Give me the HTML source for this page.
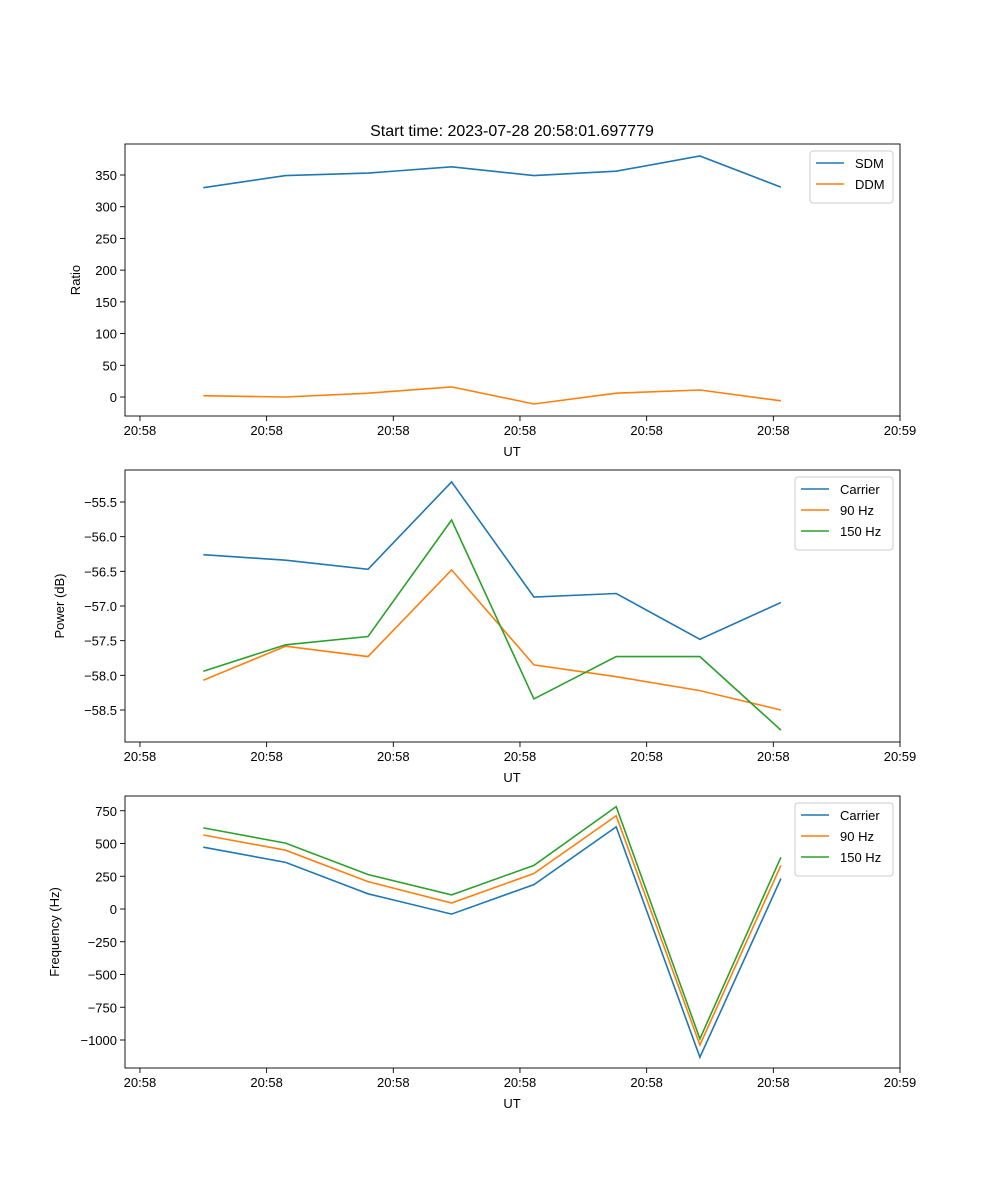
<!DOCTYPE html>
<html><head><meta charset="utf-8"><style>
html,body{margin:0;padding:0;background:#fff}
svg{display:block;font-family:"Liberation Sans","DejaVu Sans",sans-serif}
</style></head><body>
<svg id="fig" width="1000" height="1200" viewBox="0 0 1000 1200" xmlns="http://www.w3.org/2000/svg">
<rect width="1000" height="1200" fill="#fff"/>
<text x="512" y="136" font-size="16" text-anchor="middle">Start time: 2023-07-28 20:58:01.697779</text>
</svg>
<script>
const times = [5.0, 11.5, 18.0, 24.6, 31.1, 37.6, 44.2, 50.6];
const xTicks = [0, 10, 20, 30, 40, 50, 60];
const xTickLabels = ["20:58","20:58","20:58","20:58","20:58","20:58","20:59"];
const sdm = [330, 349, 353, 363, 349, 356, 380, 331];
const ddm = [2, 0, 6, 16, -11, 6, 11, -6];
const ratioTicks = [0, 50, 100, 150, 200, 250, 300, 350];
const powCarrier = [-56.26, -56.34, -56.47, -55.21, -56.87, -56.82, -57.48, -56.95];
const pow90 = [-58.07, -57.58, -57.73, -56.48, -57.85, -58.02, -58.22, -58.5];
const pow150 = [-57.94, -57.56, -57.44, -55.76, -58.34, -57.73, -57.73, -58.79];
const powTicks = [-58.5, -58.0, -57.5, -57.0, -56.5, -56.0, -55.5];
const freqCarrier = [472, 356, 116, -39, 186, 627, -1131, 232];
const freq90 = [565, 449, 209, 46, 271, 712, -1038, 333];
const freq150 = [619, 503, 263, 108, 333, 782, -991, 395];
const freqTicks = [-1000, -750, -500, -250, 0, 250, 500, 750];

const NS = "http://www.w3.org/2000/svg";
const svg = document.getElementById("fig");
function el(tag, attrs, parent) {
  const e = document.createElementNS(NS, tag);
  for (const k in attrs) e.setAttribute(k, attrs[k]);
  (parent || svg).appendChild(e);
  return e;
}
function fmt(v, dec) {
  const s = Math.abs(v).toFixed(dec);
  return (v < 0 ? "\u2212" : "") + s;
}
const X0 = 125, X1 = 900, XMIN = -1.18, XMAX = 60;
function xs(t) { return X0 + (t - XMIN) / (XMAX - XMIN) * (X1 - X0); }

function panel(name, top, bottom, yRef1, v1, yRef2, v2, ticks, dec, ylabel, ylabelX, series, legend) {
  const g = el("g", {});
  
  
  const ys = v => yRef1 + (v - v1) / (v2 - v1) * (yRef2 - yRef1);
  xTicks.forEach((t, i) => {
    const x = xs(t);
    el("line", {x1: x, x2: x, y1: bottom, y2: bottom + 5, stroke: "#000", "stroke-width": 0.9}, g);
    const tx = el("text", {x: x, y: bottom + 19, "font-size": 13, "text-anchor": "middle"}, g);
    
    
    tx.textContent = xTickLabels[i];
  });
  const xl = el("text", {x: 512, y: bottom + 40, "font-size": 13, "text-anchor": "middle"}, g);
  
  
  xl.textContent = "UT";
  ticks.forEach(v => {
    const y = ys(v);
    el("line", {x1: X0 - 5, x2: X0, y1: y, y2: y, stroke: "#000", "stroke-width": 0.9}, g);
    const tx = el("text", {x: X0 - 8, y: y + 5, "font-size": 13, "text-anchor": "end"}, g);
    
    
    tx.textContent = fmt(v, dec);
  });
  const cy = (top + bottom) / 2;
  const yl = el("text", {x: ylabelX, y: cy, "font-size": 13, "text-anchor": "middle", transform: `rotate(-90 ${ylabelX} ${cy})`}, g);
  
  
  yl.textContent = ylabel;
  series.forEach(s => {
    const pts = s.data.map((v, i) => xs(times[i]).toFixed(1) + "," + ys(v).toFixed(1)).join(" ");
    const p = el("polyline", {points: pts, fill: "none", stroke: s.color, "stroke-width": 1.6}, g);
    
    
  });
  el("rect", {x: X0, y: top, width: X1 - X0, height: bottom - top, fill: "none", stroke: "#000", "stroke-width": 0.9}, g);
  const lg = el("g", {}, g);
  
  
  el("rect", {x: legend.x, y: top + 7, width: legend.w, height: 10 + series.length * 21, rx: 3, fill: "#fff", "fill-opacity": 0.8, stroke: "#ccc"}, lg);
  series.forEach((s, i) => {
    const y = top + 19 + i * 21;
    const ln = el("line", {x1: legend.x + 6, x2: legend.x + 34, y1: y, y2: y, stroke: s.color, "stroke-width": 1.6}, lg);
    
    
    const t = el("text", {x: legend.x + 45, y: y + 5, "font-size": 13}, lg);
    
    
    t.textContent = s.label;
  });
}
const C1 = "#1f77b4", C2 = "#ff7f0e", C3 = "#2ca02c";
panel("ratio-panel", 144, 416, 397, 0, 175, 350, ratioTicks, 0, "Ratio", 80,
  [{id: "sdm", label: "SDM", data: sdm, color: C1}, {id: "ddm", label: "DDM", data: ddm, color: C2}],
  {x: 810, w: 83});
panel("power-panel", 470, 742, 502, -55.5, 710, -58.5, powTicks, 1, "Power (dB)", 64,
  [{id: "power-carrier", label: "Carrier", data: powCarrier, color: C1},
   {id: "power-90hz", label: "90 Hz", data: pow90, color: C2},
   {id: "power-150hz", label: "150 Hz", data: pow150, color: C3}],
  {x: 795, w: 98});
panel("frequency-panel", 796, 1068, 909, 0, 1040, -1000, freqTicks, 0, "Frequency (Hz)", 59,
  [{id: "freq-carrier", label: "Carrier", data: freqCarrier, color: C1},
   {id: "freq-90hz", label: "90 Hz", data: freq90, color: C2},
   {id: "freq-150hz", label: "150 Hz", data: freq150, color: C3}],
  {x: 795, w: 98});
</script>
</body></html>
